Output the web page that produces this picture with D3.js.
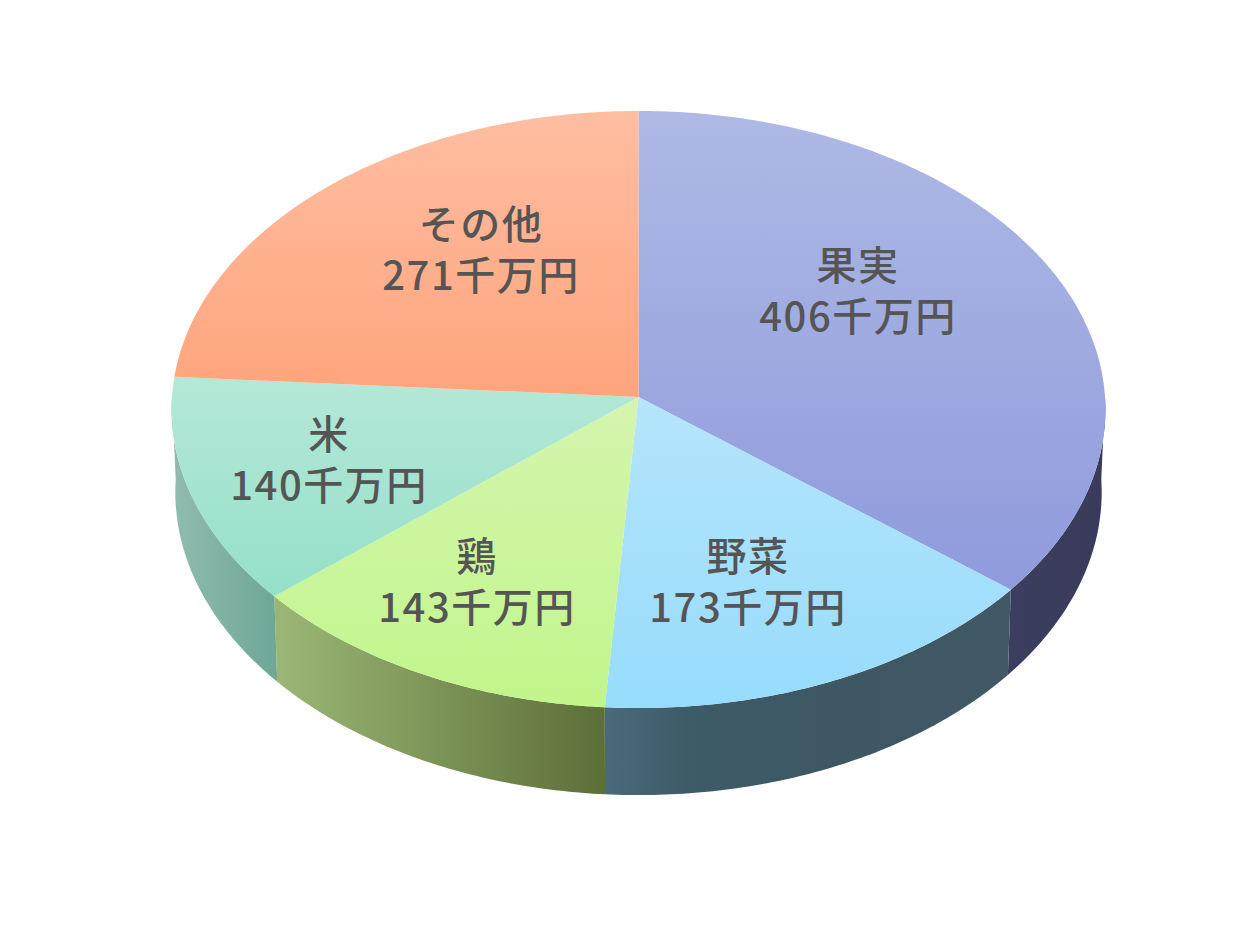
<!DOCTYPE html>
<html>
<head>
<meta charset="utf-8">
<script src="https://cdn.jsdelivr.net/npm/d3@7"></script>
<style>
  html, body { margin: 0; padding: 0; background: #fff; }
  text { font-family: "Noto Sans CJK JP", sans-serif; fill: #555; font-size: 40px; text-anchor: middle; dominant-baseline: central; letter-spacing: 1.5px; font-weight: 500; }
</style>
</head>
<body>
<svg id="chart" width="1252" height="930"></svg>
<script>
const categories = ["果実", "野菜", "鶏", "米", "その他"];
const values = [406, 173, 143, 140, 271];
const unit = "千万円";

// top face gradient, top to bottom
const topStart = ["#aeb9e5", "#b5e5fb", "#d5f5ae", "#b5e8d8", "#ffbea2"];
const topEnd = ["#8f9bdc", "#97dcfc", "#c1f68b", "#95e0c8", "#ffa47c"];
// side gradient, left to right
const sideStops = [
  ["#3b3e5e", "#3a3b5a"],
  ["#4a6a7c", "#3e5b68", "#3d5763", "#425866"],
  ["#9cb775", "#5c6f38"],
  ["#90bcae", "#6ea797"],
  ["#888888", "#888888"]
];
// centre of the label block, placed by hand to follow the original
const labelCenters = [[858, 288], [748, 579], [477, 579], [329, 457], [481, 247]];

const svg = d3.select("#chart");
const defs = svg.append("defs");

const cx = 638.5, cy = 397;
const rx = 466.5, ry = 298, persp = 0.0419;
const sideX = 0.992, sideY = 1.015, sideCy = 479.4;

// a circle seen in perspective: far side is squeezed, near side stretched
const project = (a, sx = 1, sy = 1, y0 = cy) => {
  const u = Math.sin(a), v = -Math.cos(a);
  const w = 1 - persp * v;
  return [cx + sx * rx * u / w, y0 + sy * ry * v / w];
};

const arcPoints = (a0, a1, sx, sy, y0) => {
  const n = Math.ceil((a1 - a0) * 80);
  return d3.range(n + 1).map((i) => project(a0 + (a1 - a0) * i / n, sx, sy, y0));
};

const pie = d3.pie().sort(null)(values);
const line = d3.line();

const addGradient = (id, x2, y2, colors) => {
  const g = defs.append("linearGradient").attr("id", id)
    .attr("x1", 0).attr("y1", 0).attr("x2", x2).attr("y2", y2);
  colors.forEach((c, i) => {
    // the blue side drops fast at its left end, then stays flat
    const offset = colors.length === 4 ? [0, 0.2, 0.6, 1][i] : i / (colors.length - 1);
    g.append("stop").attr("offset", offset).attr("stop-color", c);
  });
};

// Sides
svg.append("g").selectAll("path")
  .data(pie)
  .join("path")
  .each((d, i) => addGradient("side" + i, 1, 0, sideStops[i]))
  .attr("d", (d) => {
    // only the front half is visible
    const a0 = Math.max(d.startAngle, Math.PI * 0.5);
    const a1 = Math.min(d.endAngle, Math.PI * 1.5);
    if (a1 <= a0) return null;
    return line([
      ...arcPoints(a0, a1),
      ...arcPoints(a0, a1, sideX, sideY, sideCy).reverse()
    ]) + "Z";
  })
  .attr("fill", (d, i) => `url(#side${i})`);

// Top face
svg.append("g").selectAll("path")
  .data(pie)
  .join("path")
  .each((d, i) => addGradient("top" + i, 0, 1, [topStart[i], topEnd[i]]))
  .attr("d", (d) => line([[cx, cy], ...arcPoints(d.startAngle, d.endAngle)]) + "Z")
  .attr("fill", (d, i) => `url(#top${i})`);

// Labels
const labels = svg.append("g").selectAll("text")
  .data(categories)
  .join("text")
  .attr("transform", (d, i) => `translate(${labelCenters[i]})`);
labels.append("tspan").attr("x", 0).attr("y", -25).text((d) => d);
labels.append("tspan").attr("x", 0).attr("y", 26).text((d, i) => values[i] + unit);
</script>
</body>
</html>
